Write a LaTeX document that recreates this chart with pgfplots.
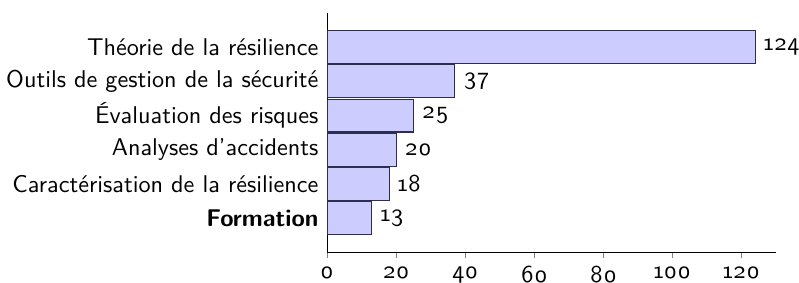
\documentclass[border=0pt]{standalone}
\usepackage{fontspec}
\usepackage{pgfplots}
\pgfplotsset{compat=1.18}
\renewcommand{\familydefault}{\sfdefault}
\newfontfamily\osf{lmsans10-regular.otf}[Numbers=OldStyle]
\definecolor{baredge}{RGB}{45,45,80}
\begin{document}
\begin{tikzpicture}
\begin{axis}[
  xbar,
  scale only axis,
  width=185.5pt, height=98.8pt,
  xmin=0, xmax=130, ymin=-1, ymax=6,
  axis lines=left, axis line style={-},
  bar width=13.6pt,
  ytick={0,1,2,3,4,5},
  yticklabels={\textbf{Formation}, Caractérisation de la résilience, Analyses d’accidents, Évaluation des risques, Outils de gestion de la sécurité, Théorie de la résilience},
  ytick style={draw=none},
  ytick align=inside,
  xtick={0,20,40,60,80,100,120},
  xticklabels={0,20,40,60,80,100,120},
  xticklabel style={font=\osf},
  xtick align=outside, major tick length=2.3pt,
  point meta=explicit symbolic,
  nodes near coords={\osf\pgfplotspointmeta},
  every node near coord/.append style={anchor=west},
]
\addplot[fill=blue!20, draw=baredge, line width=0.45pt] coordinates {
  (13,0) [13]
  (18,1) [18]
  (20,2) [20]
  (25,3) [25]
  (37,4) [37]
  (124,5) [124]
};
\coordinate (o) at (axis cs:0,-1);
\coordinate (t) at (axis cs:130,6);
\end{axis}
\pgfresetboundingbox
\path[use as bounding box] ([xshift=-135.1pt,yshift=-12.4pt]o) rectangle ([xshift=9.5pt,yshift=5.4pt]t);
\end{tikzpicture}
\end{document}
